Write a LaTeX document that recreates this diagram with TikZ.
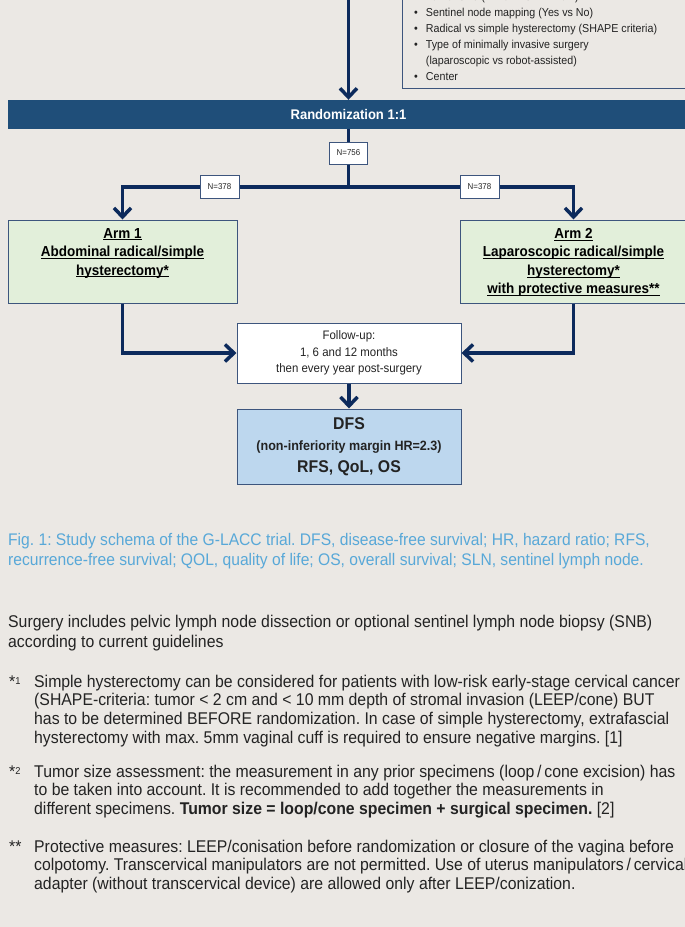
\documentclass[tikz,border=0pt]{standalone}
\usepackage{fontspec}
\setmainfont{Liberation Sans}[FakeStretch=0.93]
\usetikzlibrary{arrows.meta,positioning}
\frenchspacing

\definecolor{bgcol}{RGB}{235,232,228}
\definecolor{navy}{RGB}{12,42,92}
\definecolor{randblue}{RGB}{31,78,121}
\definecolor{armgreen}{RGB}{226,239,218}
\definecolor{dfsblue}{RGB}{189,215,238}
\definecolor{capblue}{RGB}{88,168,216}
\definecolor{txt}{RGB}{35,35,35}

% underline at a fixed distance from the baseline
\newcommand\armul[1]{\underline{\raisebox{0pt}[\height][0pt]{#1}}}

\begin{document}
\begin{tikzpicture}[x=1pt, y=-1pt,
    flow/.style={draw=navy, line width=3.5pt, -{Straight Barb[length=9pt,width=17pt]}},
    link/.style={draw=navy, line width=3.5pt},
    thinbox/.style={draw=navy!80!white, line width=1pt},
    nbox/.style={thinbox, fill=white, text=txt, inner sep=0pt, minimum width=38pt, minimum height=22pt, font=\fontsize{8.5}{10}\selectfont},
    armbox/.style={thinbox, fill=armgreen, minimum height=83pt, inner sep=0pt},
    armtext/.style={align=center, inner sep=0pt, text=black, font=\bfseries\fontsize{14.5}{18.5}\selectfont},
    midbox/.style={thinbox, minimum width=224pt, align=center, inner sep=0pt, text=txt},
    plain/.style={anchor=base west, align=left, inner sep=0pt, text=txt, font=\fontsize{17}{18.8}\selectfont}]

\useasboundingbox (0,0) rectangle (685,927);
\fill[bgcol] (0,0) rectangle (685,927);
\clip (0,0) rectangle (685,927);

% stratification
\draw[thinbox] (402,-10) rectangle (700,88);
\node[anchor=west, inner sep=0pt, text=txt, font=\fontsize{11.5}{16}\selectfont] (strat) at (414,37)
  {\begin{tabular}{@{}l@{\hspace{8pt}}l@{}}
   \textbullet & Tumor size (< 2 cm vs 2 -- 4 cm)\\
   \textbullet & Sentinel node mapping (Yes vs No)\\
   \textbullet & Radical vs simple hysterectomy (SHAPE criteria)\\
   \textbullet & Type of minimally invasive surgery\\
               & (laparoscopic vs robot-assisted)\\
   \textbullet & Center
   \end{tabular}};

% randomization
\coordinate (top) at (348.5,-5);
\node[fill=randblue, minimum width=682pt, minimum height=29pt, inner sep=0pt, text=white,
      font=\bfseries\fontsize{14}{16}\selectfont] (rand) at (348.5,114.5) {Randomization 1:1};
\draw[flow] (top) -- (rand);

\node[nbox] (n756) at (348.5,153) {N=756};
\coordinate (split) at (348.5,187);
\node[nbox, minimum width=39pt, minimum height=23pt] (nleft) at (219.5,187) {N=378};
\node[nbox, minimum width=39pt, minimum height=23pt] (nright) at (479.5,187) {N=378};

% arms
\node[armbox, minimum width=229pt] (arm1) at (122.5,261.5) {};
\node[armbox, minimum width=227pt] (arm2) at (573.5,261.5) {};
\node[armtext, below=8.5pt of arm1.north] (arm1txt)
  {\armul{Arm 1}\\ \armul{Abdominal radical/simple}\\ \armul{hysterectomy*}};
\node[armtext, below=8.5pt of arm2.north] (arm2txt)
  {\armul{Arm 2}\\ \armul{Laparoscopic radical/simple}\\ \armul{hysterectomy*}\\ \armul{with protective measures**}};

\draw[link] (rand) -- (n756);
\draw[link] (n756) -- (split);
\draw[link] (split) -- (nleft);
\draw[link] (split) -- (nright);
\draw[flow] (nleft) -| (arm1);
\draw[flow] (nright) -| (arm2);

% follow-up and endpoints
\node[midbox, fill=white, minimum height=60pt, font=\fontsize{12.3}{16.7}\selectfont] (follow) at (349,353)
  {Follow-up:\\ 1, 6 and 12 months\\ then every year post-surgery};
\node[midbox, fill=dfsblue, minimum height=75pt, font=\bfseries\fontsize{17}{21.5}\selectfont] (dfs) at (349,446.5)
  {DFS\\ {\fontsize{13.5}{21.5}\selectfont (non-inferiority margin HR=2.3)}\\ RFS, QoL, OS};

\draw[flow] (arm1) |- (follow);
\draw[flow] (arm2) |- (follow);
\draw[flow] (follow) -- (dfs);

% caption and notes (base west = baseline of the last line)
\node[plain, text=capblue, font=\fontsize{16.8}{20}\selectfont] (caption) at (8,565)
  {Fig. 1: Study schema of the G-LACC trial. DFS, disease-free survival; HR, hazard ratio; RFS,\\
   recurrence-free survival; QOL, quality of life; OS, overall survival; SLN, sentinel lymph node.};
\node[plain, font=\fontsize{17}{20}\selectfont] (surgery) at (8,647)
  {Surgery includes pelvic lymph node dissection or optional sentinel lymph node biopsy (SNB)\\
   according to current guidelines};

\node[plain] (mark1) at (9,687) {*\raisebox{3pt}{\fontsize{10}{10}\selectfont 1}};
\node[plain] (note1) at (34,743.4)
  {Simple hysterectomy can be considered for patients with low-risk early-stage cervical cancer\\
   (SHAPE-criteria: tumor < 2 cm and < 10 mm depth of stromal invasion (LEEP/cone) BUT\\
   has to be determined BEFORE randomization. In case of simple hysterectomy, extrafascial\\
   hysterectomy with max. 5mm vaginal cuff is required to ensure negative margins. [1]};

\node[plain] (mark2) at (9,777) {*\raisebox{3pt}{\fontsize{10}{10}\selectfont 2}};
\node[plain] (note2) at (34,814.6)
  {Tumor size assessment: the measurement in any prior specimens (loop\,/\,cone excision) has\\
   to be taken into account. It is recommended to add together the measurements in\\
   different specimens. \textbf{Tumor size = loop/cone specimen + surgical specimen.} [2]};

\node[plain] (mark3) at (9,852) {**};
\node[plain] (note3) at (34,889.6)
  {Protective measures: LEEP/conisation before randomization or closure of the vagina before\\
   colpotomy. Transcervical manipulators are not permitted. Use of uterus manipulators\,/\,cervical\\
   adapter (without transcervical device) are allowed only after LEEP/conization.};
\end{tikzpicture}
\end{document}
